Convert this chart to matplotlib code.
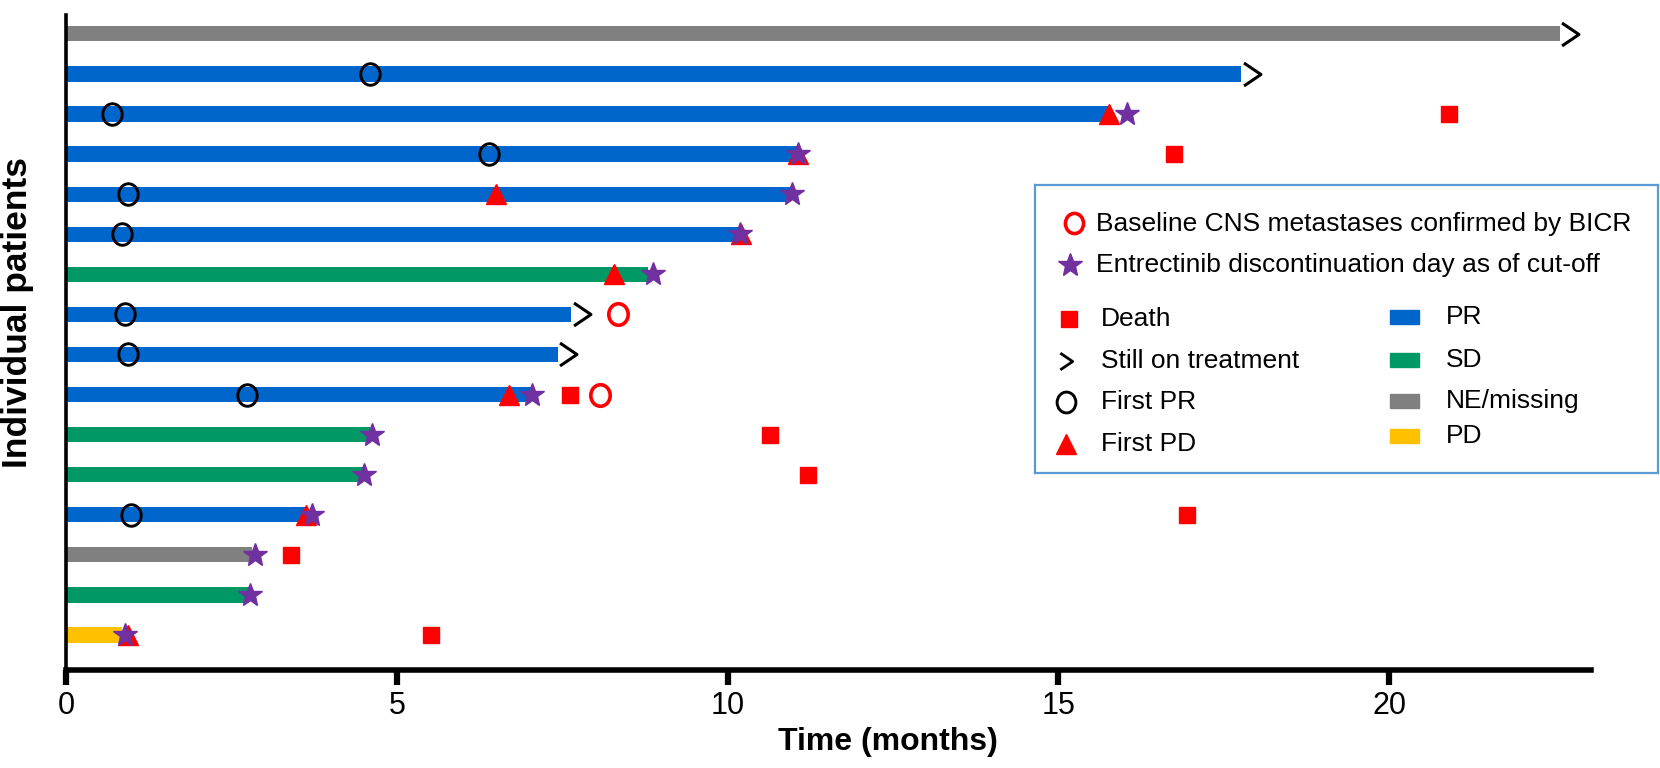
import numpy as np
import matplotlib
matplotlib.use("Agg")
import matplotlib.pyplot as plt
from matplotlib.path import Path
from matplotlib.patches import Rectangle

plt.rcParams['font.family'] = ['Liberation Sans', 'DejaVu Sans']

nan = np.nan
# rows listed from top to bottom
response = ["NE/missing", "PR", "PR", "PR", "PR", "PR", "SD", "PR", "PR", "PR",
            "SD", "SD", "PR", "NE/missing", "SD", "PD"]
duration = [22.58, 17.76, 15.76, 11.07, 10.96, 10.20, 8.79, 7.64, 7.43, 7.03,
            4.60, 4.49, 3.64, 2.81, 2.76, 0.84]
ongoing = [True, True, False, False, False, False, False, True, True, False,
           False, False, False, False, False, False]
first_pr = [nan, 4.60, 0.70, 6.39, 0.94, 0.84, nan, 0.89, 0.94, 2.73,
            nan, nan, 0.99, nan, nan, nan]
first_pd = [nan, nan, 15.77, 11.07, 6.50, 10.20, 8.28, nan, nan, 6.69,
            nan, nan, 3.62, nan, nan, 0.94]
discontinuation = [nan, nan, 16.03, 11.06, 10.98, 10.18, 8.87, nan, nan, 7.05,
                   4.63, 4.50, 3.72, 2.86, 2.78, 0.89]
death = [nan, nan, 20.91, 16.75, nan, nan, nan, nan, nan, 7.62,
         10.64, 11.22, 16.94, 3.40, nan, 5.51]
cns_baseline = [nan, nan, nan, nan, nan, nan, nan, 8.34, nan, 8.07,
                nan, nan, nan, nan, nan, nan]
xticks = [0, 5, 10, 15, 20]

colors = {"PR": "#0066CC", "SD": "#009966", "NE/missing": "#808080", "PD": "#FFC000"}
RED = "#FF0000"
PURPLE = "#7030A0"
legend_responses = ["PR", "SD", "NE/missing", "PD"]

n = len(duration)
ypos = np.arange(n, 0, -1)  # top row highest

# custom markers
circ = Path.unit_circle()
ellipse = Path(circ.vertices * np.array([0.9, 1.0]), circ.codes)
chevron = Path([(-0.74, 1.0), (0.74, 0.0), (-0.74, -1.0)],
               [Path.MOVETO, Path.LINETO, Path.LINETO])

fig = plt.figure(figsize=(16.6, 7.68), dpi=100)
ax = fig.add_axes([66/1660, 1 - 670/768, 1525/1660, 655/768])

bar_colors = [colors[r] for r in response]
ax.barh(ypos, duration, left=0, height=0.38, color=bar_colors, zorder=2)

dur = np.array(duration)
ong = np.array(ongoing)
ax.plot(dur[ong] + 0.16, ypos[ong], linestyle='none', marker=chevron, ms=16.5,
        mfc='none', mec='black', mew=2.2, zorder=4)
ax.plot(first_pr, ypos, linestyle='none', marker=ellipse, ms=15.5, mfc='none',
        mec='black', mew=2.1, zorder=4)
ax.plot(first_pd, ypos, linestyle='none', marker='^', ms=15, color=RED, mec=RED, zorder=5)
ax.plot(discontinuation, ypos, linestyle='none', marker='*', ms=18, color=PURPLE,
        mec=PURPLE, zorder=6)
ax.plot(death, ypos, linestyle='none', marker='s', ms=11.5, color=RED, mec=RED, zorder=4)
ax.plot(cns_baseline, ypos, linestyle='none', marker=ellipse, ms=15.5, mfc='none',
        mec=RED, mew=2.6, zorder=4)

ax.set_xlim(0, 23.05)
ax.set_ylim(0.127, 16.47)
ax.set_xticks(xticks)
ax.set_yticks([])
for s in ['top', 'right']:
    ax.spines[s].set_visible(False)
ax.spines['bottom'].set_linewidth(4)
ax.spines['left'].set_linewidth(2.6)
ax.tick_params(axis='x', direction='out', length=11, width=4.5, pad=4, labelsize=22)

ax.set_xlabel("Time (months)", fontsize=23, fontweight='bold')
ax.xaxis.set_label_coords((887.5 - 66) / 1525, -(742 - 670) / 655)
ax.xaxis.label.set_va('center')
ax.set_ylabel("Individual patients", fontsize=25.5, fontweight='bold')
ax.yaxis.set_label_coords((17 - 66) / 1525, (670 - 313) / 655)
ax.yaxis.label.set_va('center')

# legend box
lx0, ly0, lw, lh = 1035, 185, 623, 288
leg = fig.add_axes([lx0/1660, 1 - (ly0 + lh)/768, lw/1660, lh/768])
leg.set_xlim(0, lw)
leg.set_ylim(lh, 0)
leg.set_xticks([])
leg.set_yticks([])
for s in leg.spines.values():
    s.set_color('#5B9BD5')
    s.set_linewidth(1.6)

fs = 19
leg.plot([39], [38], marker=ellipse, ms=14.5, mfc='none', mec=RED, mew=2.6)
leg.text(61, 39, "Baseline CNS metastases confirmed by BICR", fontsize=fs, va='center')
leg.plot([35], [80], marker='*', ms=18, color=PURPLE, mec=PURPLE)
leg.text(61, 80, "Entrectinib discontinuation day as of cut-off", fontsize=fs, va='center')

left_items = [("s", "Death", 134), ("chev", "Still on treatment", 176),
              ("pr", "First PR", 217), ("^", "First PD", 258.6)]
for m, label, yy in left_items:
    if m == "s":
        leg.plot([33.5], [yy], marker='s', ms=12, color=RED, mec=RED)
    elif m == "chev":
        leg.plot([31], [yy], marker=chevron, ms=12, mfc='none', mec='black', mew=2.0)
    elif m == "pr":
        leg.plot([31], [yy], marker=ellipse, ms=15, mfc='none', mec='black', mew=2.1)
    else:
        leg.plot([31], [yy], marker='^', ms=15, color=RED, mec=RED)
    leg.text(66, yy, label, fontsize=fs, va='center')

right_y = [131.5, 175, 216, 251]
for r, yy in zip(legend_responses, right_y):
    leg.add_patch(Rectangle((355, yy - 7), 29, 14, color=colors[r]))
    leg.text(411, yy, r, fontsize=fs, va='center')

fig.savefig("out.png", dpi=100)
